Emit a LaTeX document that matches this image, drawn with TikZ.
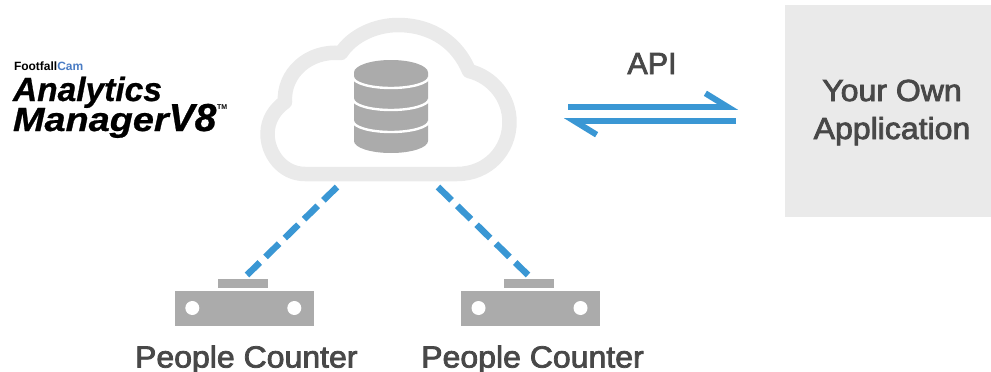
\documentclass[tikz,border=0pt]{standalone}
\usepackage{fontspec}
\setmainfont{Liberation Sans}
\newfontfamily\labelfont[FakeBold=2.5]{Liberation Sans}
\newfontfamily\logofont[FakeBold=0.7]{Liberation Sans Bold Italic}
\usetikzlibrary{positioning, arrows.meta}
\definecolor{linkblue}{HTML}{3A97D4}
\definecolor{boxgrey}{HTML}{EAEAEA}
\definecolor{partgrey}{HTML}{ABABAB}
\definecolor{textgrey}{HTML}{484848}
\definecolor{camblue}{HTML}{4A7CC4}
\tikzset{
  plain/.style={inner sep=0pt, outer sep=0pt},
  caption/.style={plain, anchor=base, text=textgrey, font=\labelfont\fontsize{30.5}{30.5}\selectfont},
  widecaption/.style={caption, xscale=1.05},
  link/.style={draw=linkblue, line width=6.5pt, dash pattern=on 19pt off 8pt},
  flow/.style={draw=linkblue, line width=6.5pt},
  part/.style={fill=partgrey, draw=none},
  seam/.style={white, line width=2.4pt},
}
\begin{document}
\begin{tikzpicture}[x=1pt,y=-1pt]
  \useasboundingbox (0,0) rectangle (991,372);

  % cloud
  \draw[boxgrey, line width=14.5pt, line join=round]
    (305,174) .. controls (282,174) and (267.5,153) .. (267.5,134)
    .. controls (267.5,120) and (275,109) .. (285,102)
    .. controls (283,74) and (308,50) .. (341,53)
    .. controls (352,36) and (375,25) .. (398,25)
    .. controls (433,25) and (458,44) .. (469,71)
    .. controls (493,77) and (509.5,98) .. (509.5,122)
    .. controls (509.5,150) and (488,174) .. (457,174) -- cycle;
  \coordinate (cloudL) at (337,187);
  \coordinate (cloudR) at (438,187);

  % database
  \fill[partgrey] (354,72.5) -- (354,141) arc[start angle=180, end angle=0, x radius=37, y radius=12]
    -- (428,72.5) arc[start angle=0, end angle=-180, x radius=37, y radius=12.5] -- cycle;
  \foreach \y in {77,99,121} {
    \draw[seam] (353,\y) arc[start angle=180, end angle=0, x radius=38, y radius=11];
  }

  % logo
  \node[plain, anchor=base west, font=\bfseries\fontsize{12}{12}\selectfont] (brand) at (14,70) {Footfall\textcolor{camblue}{Cam}};
  \node[plain, anchor=base west, align=left, font=\logofont\fontsize{33.5}{30}\selectfont] (logo) at (13,131)
    {Analytics\\\scalebox{1.13}[1]{Manager}\smash{\fontsize{39}{30}\selectfont V8}};
  \node[plain, anchor=base west, font=\bfseries\fontsize{7}{7}\selectfont] (tm) at (217,109) {TM};

  % application
  \node[plain, fill=boxgrey, minimum width=206pt, minimum height=212pt, anchor=north west] (app) at (785,5) {};
  \node[widecaption] (applabelA) at (892,101) {Your Own};
  \node[widecaption] (applabelB) at (892,139) {Application};

  % api arrows
  \node[caption] (api) at (652,74) {API};
  \coordinate (flowA) at (568,106.8);
  \coordinate (flowB) at (738,106.8);
  \coordinate (flowC) at (736,121.2);
  \coordinate (flowD) at (564,121.2);
  \draw[flow, -{Straight Barb[left, length=22pt, width=27pt, line width=6pt]}] (flowA) -- (flowB);
  \draw[flow, -{Straight Barb[left, length=22pt, width=27pt, line width=6pt]}] (flowC) -- (flowD);

  % counters
  \foreach \n/\x/\t in {one/244.3/People Counter, two/530.5/People Counter} {
    \fill[part] (\x-26.5,279) rectangle (\x+23.5,288);
    \fill[part] (\x-69.5,291) rectangle (\x+69.5,325.5);
    \fill[white] (\x-52,308) circle (7pt);
    \fill[white] (\x+50,308) circle (7pt);
    \node[widecaption] (\n) at (\x+2,367.5) {\t};
  }
  \coordinate (sensorL) at (247,275);
  \coordinate (sensorR) at (528,275);
  \draw[link] (cloudL) -- (sensorL);
  \draw[link] (cloudR) -- (sensorR);
\end{tikzpicture}
\end{document}
